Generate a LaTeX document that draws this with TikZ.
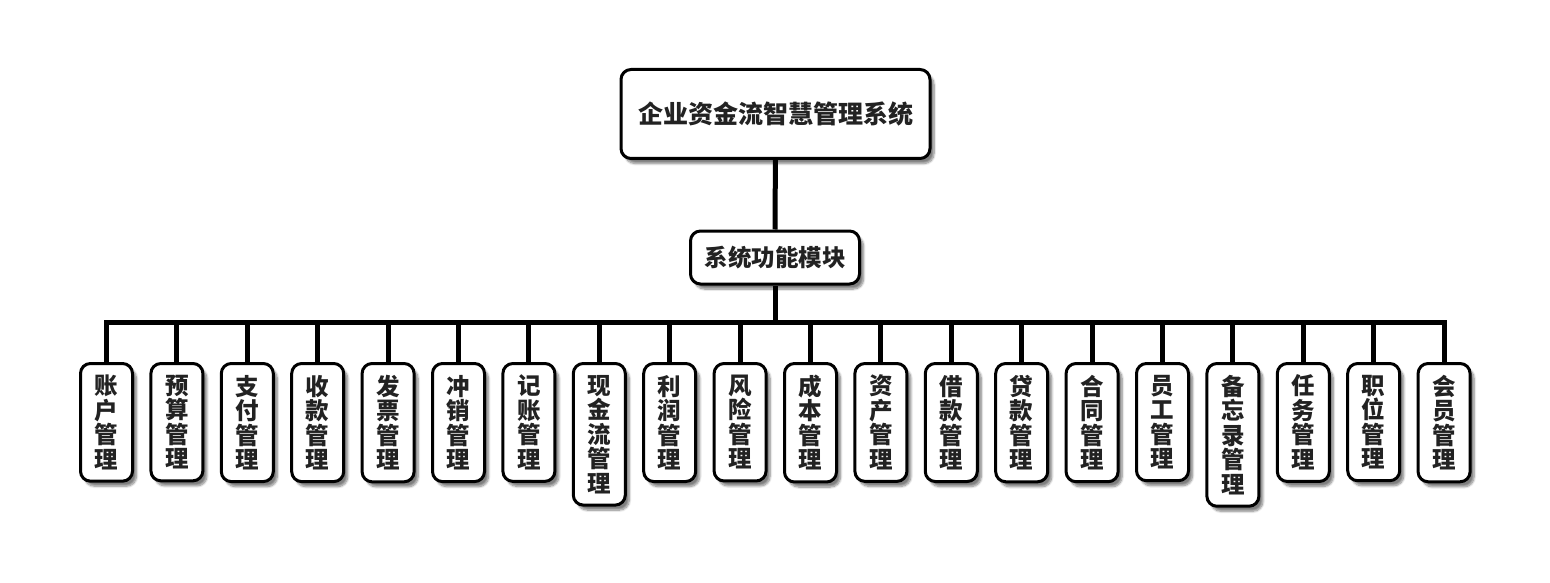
\documentclass[tikz,border=0pt]{standalone}
\usepackage{fontspec}
\setmainfont{Noto Sans CJK SC}
\usetikzlibrary{shadows.blur,backgrounds}

\definecolor{inkgray}{HTML}{222222}

\tikzset{
  box/.style={draw=black, line width=3pt, rounded corners=10pt, fill=white,
    text=inkgray, font=\bfseries,
    blur shadow={shadow xshift=4pt, shadow yshift=-5pt, shadow blur steps=8, shadow opacity=50}},
  rootbox/.style={box, minimum width=309pt, minimum height=89pt, font=\bfseries\fontsize{25}{25}\selectfont},
  groupbox/.style={box, minimum width=169pt, minimum height=53pt, font=\bfseries\fontsize{23.5}{24}\selectfont},
  leafbox/.style={box, anchor=north, align=center, minimum width=52pt, inner xsep=0pt, inner ysep=11.5pt,
    font=\bfseries\fontsize{23.5}{24.5}\selectfont},
  wire/.style={line width=5pt, black}
}

\begin{document}
\begin{tikzpicture}[x=1pt, y=-1pt]
    \useasboundingbox (0,0) rectangle (1550,583);

    \node (root) [rootbox] at (775.5,114) {企业资金流智慧管理系统};
    \node (func) [groupbox] at (775,257.5) {系统功能模块};
    \coordinate (bus) at (775,322);

    % leaf modules, one per column
    \foreach \txt [count=\i] in {
        {账\\户\\管\\理}, {预\\算\\管\\理}, {支\\付\\管\\理}, {收\\款\\管\\理},
        {发\\票\\管\\理}, {冲\\销\\管\\理}, {记\\账\\管\\理}, {现\\金\\流\\管\\理},
        {利\\润\\管\\理}, {风\\险\\管\\理}, {成\\本\\管\\理}, {资\\产\\管\\理},
        {借\\款\\管\\理}, {贷\\款\\管\\理}, {合\\同\\管\\理}, {员\\工\\管\\理},
        {备\\忘\\录\\管\\理}, {任\\务\\管\\理}, {职\\位\\管\\理}, {会\\员\\管\\理}}
        \node (m\i) [leafbox] at ({106.5+(\i-1)*70.4}, 362) {\txt};

    \begin{scope}[on background layer]
        \path[wire] (root) edge (func)
                    (func) edge (bus);
        \foreach \i in {1,...,20}
            \draw[wire] (bus) -| (m\i.north);
    \end{scope}

\end{tikzpicture}
\end{document}
